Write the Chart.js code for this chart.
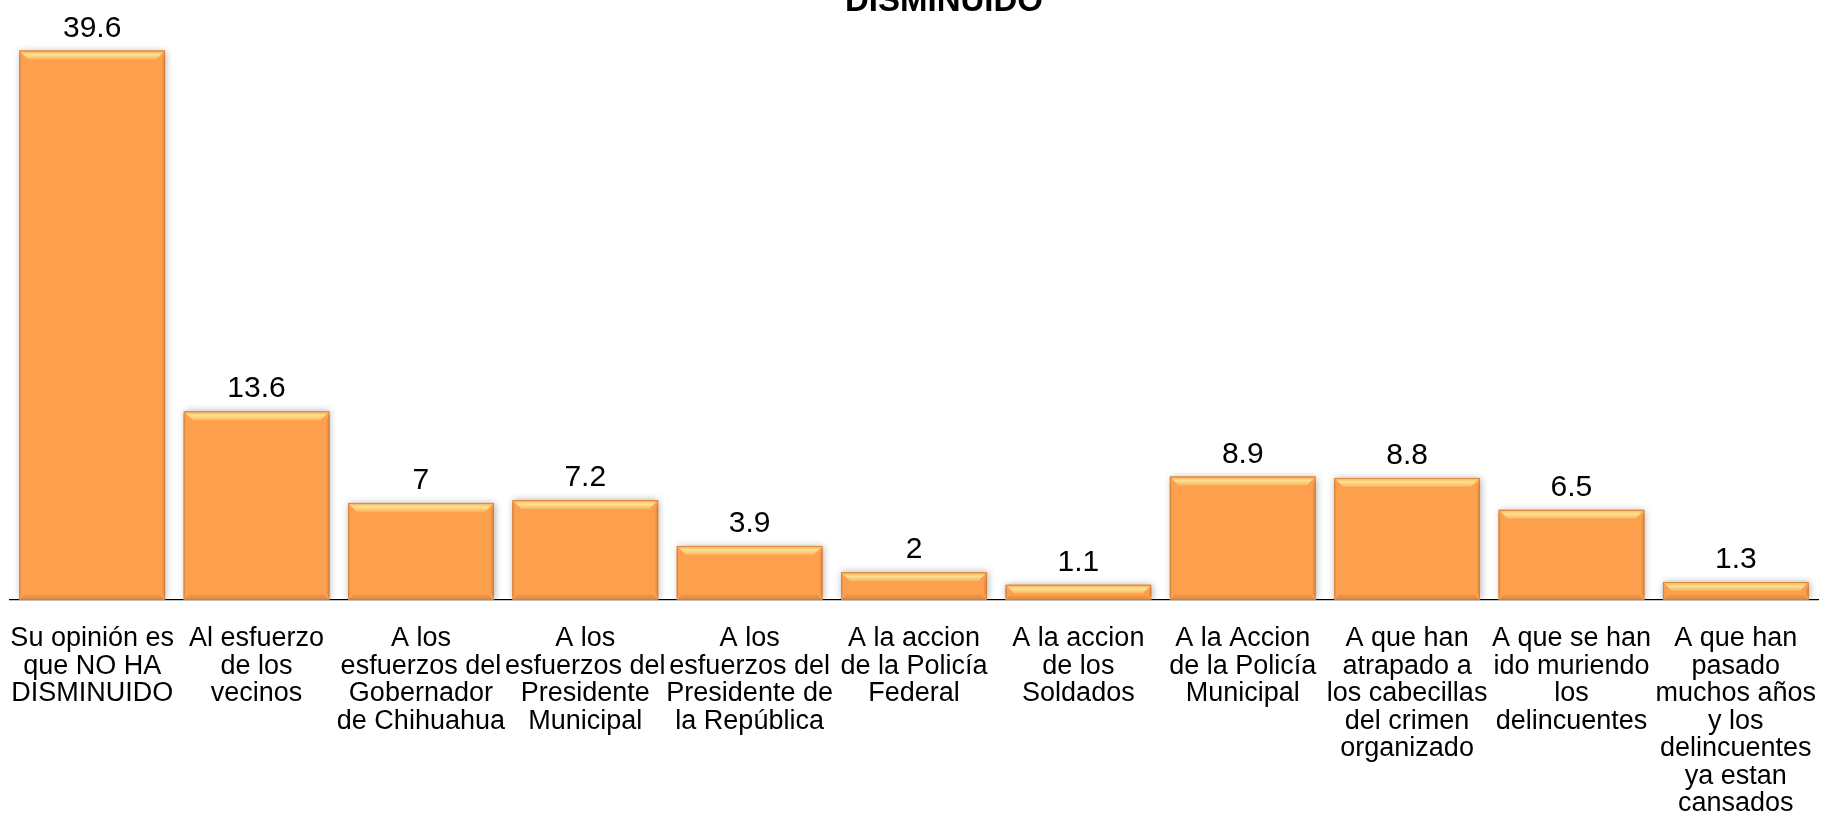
<!DOCTYPE html>
<html>
<head>
<meta charset="utf-8">
<script src="https://cdn.jsdelivr.net/npm/chart.js@4/dist/chart.umd.min.js"></script>
<style>
  html, body { margin: 0; padding: 0; background: #fff; overflow: hidden; }
  #wrap { position: relative; width: 1828px; height: 828px; }
</style>
</head>
<body>
<div id="wrap"><canvas id="myChart"></canvas></div>
<script>
// data
const titleText = 'DISMINUIDO';
const categories = [
  ['Su opinión es', 'que NO HA', 'DISMINUIDO'],
  ['Al esfuerzo', 'de los', 'vecinos'],
  ['A los', 'esfuerzos del', 'Gobernador', 'de Chihuahua'],
  ['A los', 'esfuerzos del', 'Presidente', 'Municipal'],
  ['A los', 'esfuerzos del', 'Presidente de', 'la República'],
  ['A la accion', 'de la Policía', 'Federal'],
  ['A la accion', 'de los', 'Soldados'],
  ['A la Accion', 'de la Policía', 'Municipal'],
  ['A que han', 'atrapado a', 'los cabecillas', 'del crimen', 'organizado'],
  ['A que se han', 'ido muriendo', 'los', 'delincuentes'],
  ['A que han', 'pasado', 'muchos años', 'y los', 'delincuentes', 'ya estan', 'cansados']
];
const values = [39.6, 13.6, 7, 7.2, 3.9, 2, 1.1, 8.9, 8.8, 6.5, 1.3];

const FONT = 'Liberation Sans, Arial, sans-serif';

// soft shadow round the bars
const shadowPlugin = {
  id: 'shadow',
  beforeDatasetDraw(chart) {
    const ctx = chart.ctx;
    ctx.save();
    ctx.shadowColor = 'rgba(0,0,0,0.32)';
    ctx.shadowBlur = 7;
    ctx.shadowOffsetX = 1;
    ctx.shadowOffsetY = 0;
  },
  afterDatasetDraw(chart) {
    chart.ctx.restore();
  }
};

function poly(ctx, pts, fill) {
  ctx.fillStyle = fill;
  ctx.beginPath();
  ctx.moveTo(pts[0][0], pts[0][1]);
  for (let k = 1; k < pts.length; k++) ctx.lineTo(pts[k][0], pts[k][1]);
  ctx.closePath();
  ctx.fill();
}

// bevel edges + value labels + title
const bevelPlugin = {
  id: 'bevel',
  afterDatasetsDraw(chart) {
    const ctx = chart.ctx;
    const meta = chart.getDatasetMeta(0);
    meta.data.forEach((bar, i) => {
      const l = bar.x - bar.width / 2, r = bar.x + bar.width / 2;
      const t = bar.y, b = bar.base;
      const h = b - t;
      const et = Math.min(9, h * 0.6);   // top bevel
      const eb = Math.min(6, h * 0.3);   // bottom bevel
      const es = 3;                      // side bevels
      ctx.save();
      // top edge
      const g = ctx.createLinearGradient(0, t, 0, t + et);
      g.addColorStop(0, '#f5a655');
      g.addColorStop(0.45, '#fee38f');
      g.addColorStop(1, '#fcb160');
      poly(ctx, [[l, t], [r, t], [r - et, t + et], [l + et, t + et]], g);
      // bottom edge
      const gb = ctx.createLinearGradient(0, b - eb, 0, b);
      gb.addColorStop(0, '#f49a4c');
      gb.addColorStop(1, '#e0843a');
      poly(ctx, [[l, b], [r, b], [r - eb, b - eb], [l + eb, b - eb]], gb);
      if (h > et + eb) {
        // left edge
        const gl = ctx.createLinearGradient(l, 0, l + es, 0);
        gl.addColorStop(0, '#e89245');
        gl.addColorStop(1, '#fca352');
        poly(ctx, [[l, t + et - (et - es)], [l + es, t + et], [l + es, b - eb], [l, b - eb + (eb - es)]], gl);
        // right edge
        const gr = ctx.createLinearGradient(r - es, 0, r, 0);
        gr.addColorStop(0, '#f79b4a');
        gr.addColorStop(1, '#d9813a');
        poly(ctx, [[r, t + es], [r - es, t + et], [r - es, b - eb], [r, b - es]], gr);
      }
      ctx.strokeStyle = 'rgba(210,125,55,0.8)';
      ctx.lineWidth = 1;
      ctx.strokeRect(l + 0.5, t + 0.5, r - l - 1, h - 1);
      // value label
      ctx.fillStyle = '#000';
      ctx.font = '30px ' + FONT;
      ctx.textAlign = 'center';
      ctx.textBaseline = 'alphabetic';
      ctx.fillText(String(values[i]), bar.x, t - 14);
      ctx.restore();
    });
    // title (its upper part falls outside the page)
    ctx.save();
    ctx.fillStyle = '#000';
    ctx.font = 'bold 33px ' + FONT;
    ctx.textAlign = 'center';
    ctx.textBaseline = 'alphabetic';
    ctx.fillText(titleText, 944, 11);
    ctx.restore();
  }
};

new Chart(document.getElementById('myChart'), {
  type: 'bar',
  data: {
    labels: categories,
    datasets: [{
      data: values,
      backgroundColor: '#fda04e',
      borderWidth: 0,
      barPercentage: 0.887,
      categoryPercentage: 1
    }]
  },
  options: {
    responsive: true,
    maintainAspectRatio: false,
    animation: false,
    layout: { padding: { top: 45, left: 10, right: 10, bottom: 0 } },
    plugins: {
      legend: { display: false },
      title: { display: false },
      tooltip: { enabled: false }
    },
    scales: {
      x: {
        grid: { display: false, drawTicks: false },
        border: { display: true, color: '#000', width: 1.3 },
        ticks: {
          color: '#000',
          autoSkip: false,
          maxRotation: 0,
          minRotation: 0,
          padding: 25,
          font: { family: FONT, size: 27, lineHeight: 1.02 }
        },
        afterFit(scale) {
          scale.height = 228;
          scale.paddingLeft = 0;
          scale.paddingRight = 0;
        }
      },
      y: {
        display: false,
        min: 0,
        max: 40
      }
    }
  },
  plugins: [shadowPlugin, bevelPlugin]
});
</script>
</body>
</html>
